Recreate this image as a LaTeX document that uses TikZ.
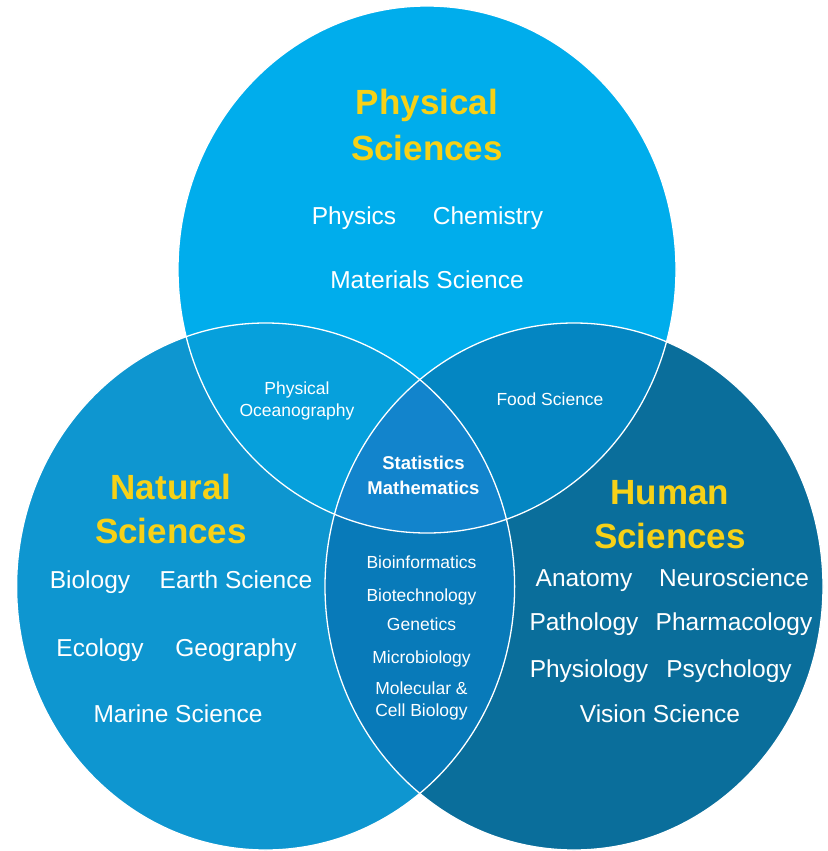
\documentclass[tikz,border=0pt]{standalone}
\usepackage{fontspec}
\setmainfont{Liberation Sans}
\definecolor{cTop}{RGB}{0,173,236}
\definecolor{cLeft}{RGB}{14,150,208}
\definecolor{cRight}{RGB}{10,110,155}
\definecolor{cTL}{RGB}{6,160,220}
\definecolor{cTR}{RGB}{4,134,194}
\definecolor{cLR}{RGB}{8,122,185}
\definecolor{cC}{RGB}{18,132,204}
\definecolor{cYel}{RGB}{247,209,23}
\tikzset{
  title/.style={text=cYel, font=\fontsize{35}{42}\selectfont\bfseries, anchor=base, inner sep=0pt},
  big/.style={text=white, font=\fontsize{24.5}{29}\selectfont, anchor=base, inner sep=0pt},
  small/.style={text=white, font=\fontsize{17.5}{21}\selectfont, anchor=base, inner sep=0pt},
  smallb/.style={text=white, font=\fontsize{18.5}{22}\selectfont\bfseries, anchor=base, inner sep=0pt},
  rim/.style={draw=white, line width=1.3pt}
}
\begin{document}
\begin{tikzpicture}[x=1pt,y=-1pt]
\useasboundingbox (0,0) rectangle (827,851);
\fill[white] (0,0) rectangle (827,851);
\def\TopE{(427,269.5) ellipse [x radius=249, y radius=263.5]}
\def\LeftE{(265.6,586.5) ellipse [x radius=249, y radius=263.5]}
\def\RightE{(574,586.5) ellipse [x radius=249, y radius=263.5]}
% base discs
\fill[cTop] \TopE;
\fill[cLeft] \LeftE;
\fill[cRight] \RightE;
% pairwise overlaps
\begin{scope}\clip \TopE; \fill[cTL] \LeftE; \end{scope}
\begin{scope}\clip \TopE; \fill[cTR] \RightE; \end{scope}
\begin{scope}\clip \LeftE; \fill[cLR] \RightE; \end{scope}
% centre
\begin{scope}\clip \TopE; \clip \LeftE; \fill[cC] \RightE; \end{scope}
% white rims
\draw[rim] \TopE;
\draw[rim] \LeftE;
\draw[rim] \RightE;
% Physical Sciences
\node[title] (pt1) at (427,114) {Physical};
\node[title] (pt2) at (427,160) {Sciences};
\node[big] (phys) at (354,224) {Physics};
\node[big] (chem) at (488,224) {Chemistry};
\node[big] (mat) at (427,288) {Materials Science};
% Natural Sciences
\node[title] (nt1) at (171,499) {Natural};
\node[title] (nt2) at (171,543) {Sciences};
\node[big] (bio) at (90,588) {Biology};
\node[big] (earth) at (236,588) {Earth Science};
\node[big] (eco) at (100,656) {Ecology};
\node[big] (geo) at (236,656) {Geography};
\node[big] (mar) at (178,722) {Marine Science};
% Human Sciences
\node[title] (ht1) at (670,504) {Human};
\node[title] (ht2) at (670,548) {Sciences};
\node[big] (ana) at (584,586) {Anatomy};
\node[big] (neu) at (734,586) {Neuroscience};
\node[big] (pat) at (584,630) {Pathology};
\node[big] (pha) at (734,630) {Pharmacology};
\node[big] (phy) at (589,677) {Physiology};
\node[big] (psy) at (729,677) {Psychology};
\node[big] (vis) at (660,722) {Vision Science};
% overlaps
\node[small] (po1) at (297,394) {Physical};
\node[small] (po2) at (297,416) {Oceanography};
\node[small] (food) at (550,405) {Food Science};
\node[smallb] (st) at (423.5,469) {Statistics};
\node[smallb] (ma) at (423.5,494) {Mathematics};
\node[small] (bi1) at (421.5,568) {Bioinformatics};
\node[small] (bi2) at (421.5,601) {Biotechnology};
\node[small] (gen) at (421.5,630) {Genetics};
\node[small] (mic) at (421.5,663) {Microbiology};
\node[small] (mol) at (421.5,694) {Molecular \&};
\node[small] (cel) at (421.5,716) {Cell Biology};
\end{tikzpicture}
\end{document}
